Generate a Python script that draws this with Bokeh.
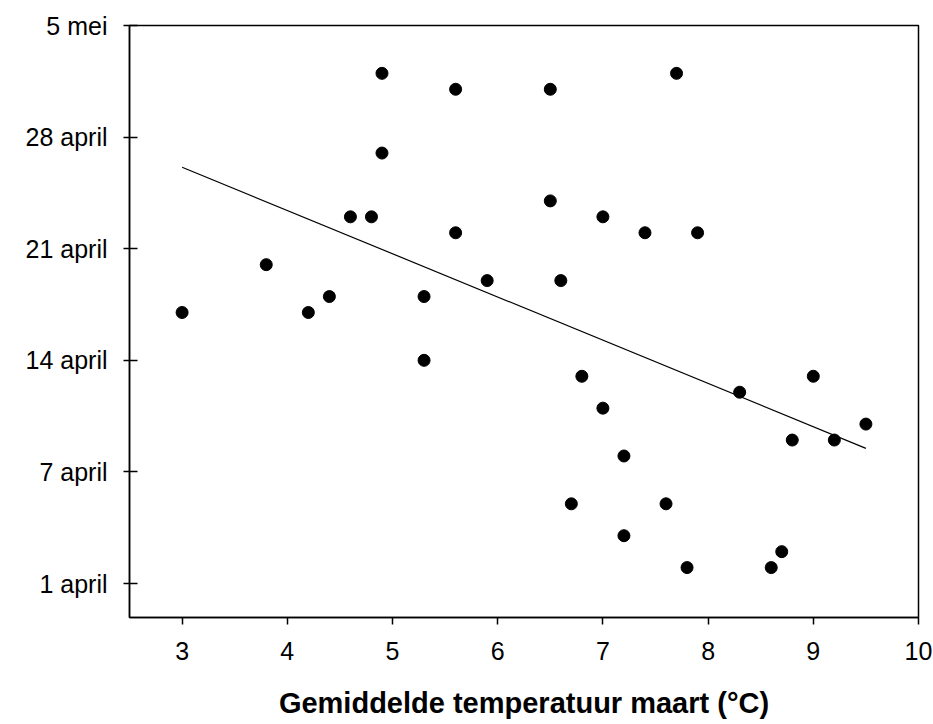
import numpy as np
from bokeh.plotting import figure
from bokeh.models import FixedTicker, Range1d
from bokeh.embed import file_html
from bokeh.resources import INLINE

# March mean temperature (°C) and flowering date (days, 0 = "1 april" tick)
temp = [3.0, 3.8, 4.2, 4.4, 4.6, 4.8, 4.9, 4.9, 5.3, 5.3, 5.6, 5.6, 5.9,
        6.5, 6.5, 6.6, 6.7, 6.8, 7.0, 7.0, 7.2, 7.2, 7.4, 7.6, 7.7, 7.8,
        7.9, 8.3, 8.6, 8.7, 8.8, 9.0, 9.2, 9.5]
day = [17, 20, 17, 18, 23, 23, 32, 27, 18, 14, 31, 22, 19,
       31, 24, 19, 5, 13, 23, 11, 8, 3, 22, 5, 32, 1,
       22, 12, 1, 2, 9, 13, 9, 10]

y_ticks = [0, 7, 14, 21, 28, 35]
y_labels = ["1 april", "7 april", "14 april", "21 april", "28 april", "5 mei"]
x_ticks = [3, 4, 5, 6, 7, 8, 9, 10]

FONT = "Liberation Sans"

p = figure(width=933, height=724, output_backend="svg", toolbar_location=None,
           x_range=Range1d(2.5, 10), y_range=Range1d(-2.13, 35))
p.min_border_left = 129
p.min_border_right = 15
p.min_border_top = 25
p.min_border_bottom = 107
p.grid.visible = False
p.outline_line_color = "black"
p.outline_line_width = 1.5
p.background_fill_color = "white"
p.border_fill_color = "white"

# trend line (least squares)
b, a = np.polyfit(temp, day, 1)
xs = np.array([min(temp), max(temp)])
p.line(xs, a + b * xs, line_color="black", line_width=1.2)

p.scatter(temp, day, size=12, marker="circle", fill_color="black", line_color="black")

p.xaxis.ticker = FixedTicker(ticks=x_ticks)
p.yaxis.ticker = FixedTicker(ticks=y_ticks)
p.yaxis.major_label_overrides = {t: l for t, l in zip(y_ticks, y_labels)}

for ax in (p.xaxis[0], p.yaxis[0]):
    ax.axis_line_color = "black"
    ax.axis_line_width = 1.5
    ax.major_tick_line_color = "black"
    ax.major_tick_line_width = 1.5
    ax.minor_tick_line_color = None
    ax.major_label_text_font = FONT
    ax.major_label_text_font_size = "25px"
    ax.major_label_text_color = "black"

p.yaxis.major_tick_out = 6
p.yaxis.major_tick_in = 8
p.yaxis.major_label_standoff = 16
p.xaxis.major_tick_out = 7
p.xaxis.major_tick_in = 0
p.xaxis.major_label_standoff = 17

p.xaxis.axis_label = "Gemiddelde temperatuur maart (°C)"
p.xaxis.axis_label_text_font = FONT
p.xaxis.axis_label_text_font_style = "bold"
p.xaxis.axis_label_text_font_size = "29px"
p.xaxis.axis_label_text_color = "black"
p.xaxis.axis_label_standoff = 24

open("out.html", "w").write(file_html(p, INLINE))
